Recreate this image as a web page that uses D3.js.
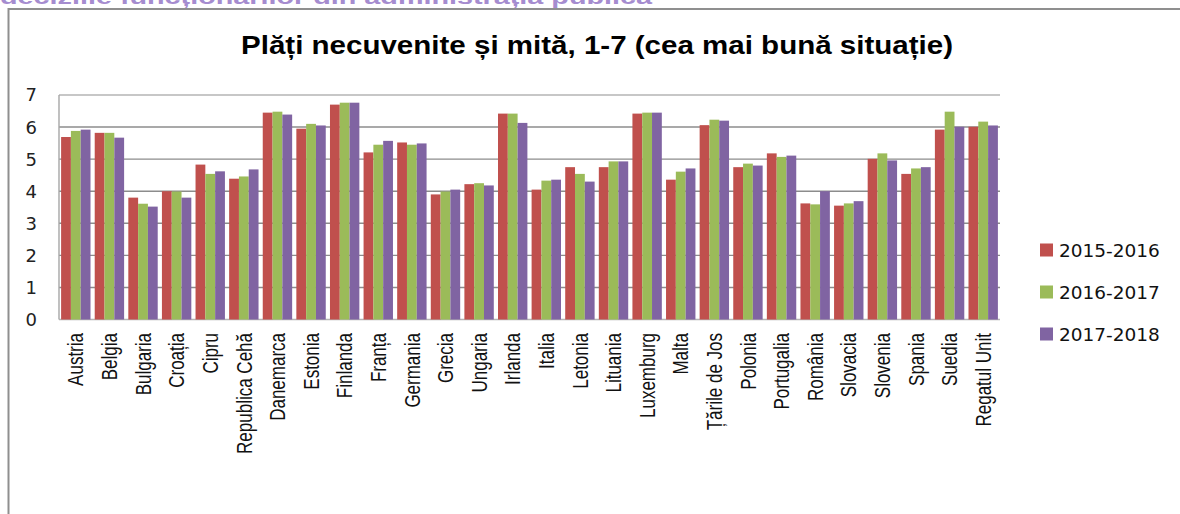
<!DOCTYPE html>
<html>
<head>
<meta charset="utf-8">
<script src="https://cdn.jsdelivr.net/npm/d3@7"></script>
<style>
  html, body { margin: 0; padding: 0; background: #fff; }
  svg { display: block; }
</style>
</head>
<body>
<svg width="1180" height="514"></svg>
<script>
// chart data
var categories = ["Austria", "Belgia", "Bulgaria", "Croația", "Cipru", "Republica Cehă",
    "Danemarca", "Estonia", "Finlanda", "Franța", "Germania", "Grecia", "Ungaria",
    "Irlanda", "Italia", "Letonia", "Lituania", "Luxemburg", "Malta", "Țările de Jos",
    "Polonia", "Portugalia", "România", "Slovacia", "Slovenia", "Spania", "Suedia",
    "Regatul Unit"];
var seriesNames = ["2015-2016", "2016-2017", "2017-2018"];
var values2015 = [5.69, 5.82, 3.80, 4.00, 4.83, 4.39, 6.45, 5.95, 6.70, 5.21, 5.52, 3.90, 4.22,
    6.42, 4.05, 4.75, 4.75, 6.42, 4.36, 6.06, 4.75, 5.18, 3.62, 3.55, 5.01, 4.54, 5.92, 6.01];
var values2016 = [5.88, 5.82, 3.61, 3.99, 4.54, 4.46, 6.48, 6.10, 6.76, 5.45, 5.45, 3.99, 4.25,
    6.42, 4.33, 4.54, 4.93, 6.45, 4.61, 6.23, 4.86, 5.07, 3.59, 3.62, 5.18, 4.71, 6.48, 6.17];
var values2017 = [5.92, 5.67, 3.52, 3.80, 4.62, 4.68, 6.39, 6.05, 6.76, 5.57, 5.49, 4.05, 4.18,
    6.13, 4.36, 4.30, 4.93, 6.45, 4.71, 6.20, 4.80, 5.11, 4.00, 3.69, 4.96, 4.75, 6.01, 6.05];
var yTicks = [0, 1, 2, 3, 4, 5, 6, 7];
var colors = ["#c0504d", "#9bbb59", "#8064a2"];

var series = [values2015, values2016, values2017];

var svg = d3.select("svg");

// cut-off heading of the page above the chart
svg.append("text")
    .attr("x", 0)
    .attr("y", 4)
    .attr("textLength", 652)
    .attr("lengthAdjust", "spacingAndGlyphs")
    .style("font-family", "Liberation Sans, Arial, sans-serif")
    .style("font-weight", "bold")
    .style("font-size", "20px")
    .style("fill", "#a58ccf")
    .text("deciziile funcționarilor din administrația publică");

// chart frame (left and top edges only are visible)
svg.append("path")
    .attr("d", "M8.5,514 V9 H1180")
    .style("fill", "none")
    .style("stroke", "#8f8f8f")
    .style("stroke-width", 2);

// title
svg.append("text")
    .attr("x", 597)
    .attr("y", 54)
    .attr("text-anchor", "middle")
    .attr("textLength", 712)
    .attr("lengthAdjust", "spacingAndGlyphs")
    .style("font-family", "Liberation Sans, Arial, sans-serif")
    .style("font-weight", "bold")
    .style("font-size", "25px")
    .style("fill", "#000")
    .text("Plăți necuvenite și mită, 1-7 (cea mai bună situație)");

var plotLeft = 59, plotRight = 1000, plotTop = 95, plotBottom = 319.5;

var x0 = d3.scaleBand().domain(categories).range([plotLeft, plotRight]).padding(0);
var x1 = d3.scaleBand().domain(d3.range(series.length))
    .range([0, x0.bandwidth()]).paddingInner(0).paddingOuter(0.215);
var y = d3.scaleLinear().domain([0, 7]).range([plotBottom, plotTop]);

var g = svg.append("g");

// gridlines
g.selectAll(".grid")
    .data(yTicks)
    .enter().append("line")
    .attr("x1", plotLeft)
    .attr("x2", plotRight)
    .attr("y1", d => y(d))
    .attr("y2", d => y(d))
    .style("stroke", d => (d === 0 || d === 7) ? "#b5b5b5" : "#8c8c8c")
    .style("stroke-width", 1.4);

// bars
g.selectAll(".group")
    .data(categories)
    .enter().append("g")
    .attr("transform", d => "translate(" + x0(d) + ",0)")
    .each(function (c, i) {
        d3.select(this).selectAll("rect")
            .data(series.map((s, k) => ({ k: k, v: s[i] })))
            .enter().append("rect")
            .attr("x", d => x1(d.k))
            .attr("y", d => y(d.v))
            .attr("width", x1.bandwidth())
            .attr("height", d => y(0) - y(d.v))
            .style("fill", d => colors[d.k]);
    });

// left axis line
g.append("line")
    .attr("x1", plotLeft).attr("x2", plotLeft)
    .attr("y1", plotTop).attr("y2", plotBottom)
    .style("stroke", "#a6a6a6")
    .style("stroke-width", 1.4);

// y tick labels
g.selectAll(".ytick")
    .data(yTicks)
    .enter().append("text")
    .attr("x", 37)
    .attr("y", d => y(d))
    .attr("dy", "0.36em")
    .attr("text-anchor", "end")
    .style("font-family", "DejaVu Sans, sans-serif")
    .style("font-size", "18px")
    .style("fill", "#222")
    .text(d => d);

// x labels, rotated (glyphs a little widened, like the original)
g.selectAll(".xlabel")
    .data(categories)
    .enter().append("text")
    .attr("transform", d => "translate(" + (x0(d) + x0.bandwidth() / 2) + ",333) rotate(-90) scale(1,1.25)")
    .attr("dy", "0.36em")
    .attr("text-anchor", "end")
    .style("font-family", "Liberation Sans, Arial, sans-serif")
    .style("font-size", "17px")
    .style("fill", "#111")
    .text(d => d);

// legend
var legend = svg.append("g");
var ly = d3.scalePoint().domain(seriesNames).range([250, 334]);

legend.selectAll("rect")
    .data(seriesNames)
    .enter().append("rect")
    .attr("x", 1040)
    .attr("y", d => ly(d) - 6.5)
    .attr("width", 13)
    .attr("height", 13)
    .style("fill", (d, i) => colors[i]);

legend.selectAll("text")
    .data(seriesNames)
    .enter().append("text")
    .attr("x", 1059)
    .attr("y", d => ly(d))
    .attr("dy", "0.36em")
    .style("font-family", "DejaVu Sans, sans-serif")
    .style("font-size", "18.5px")
    .style("fill", "#111")
    .text(d => d);
</script>
</body>
</html>
